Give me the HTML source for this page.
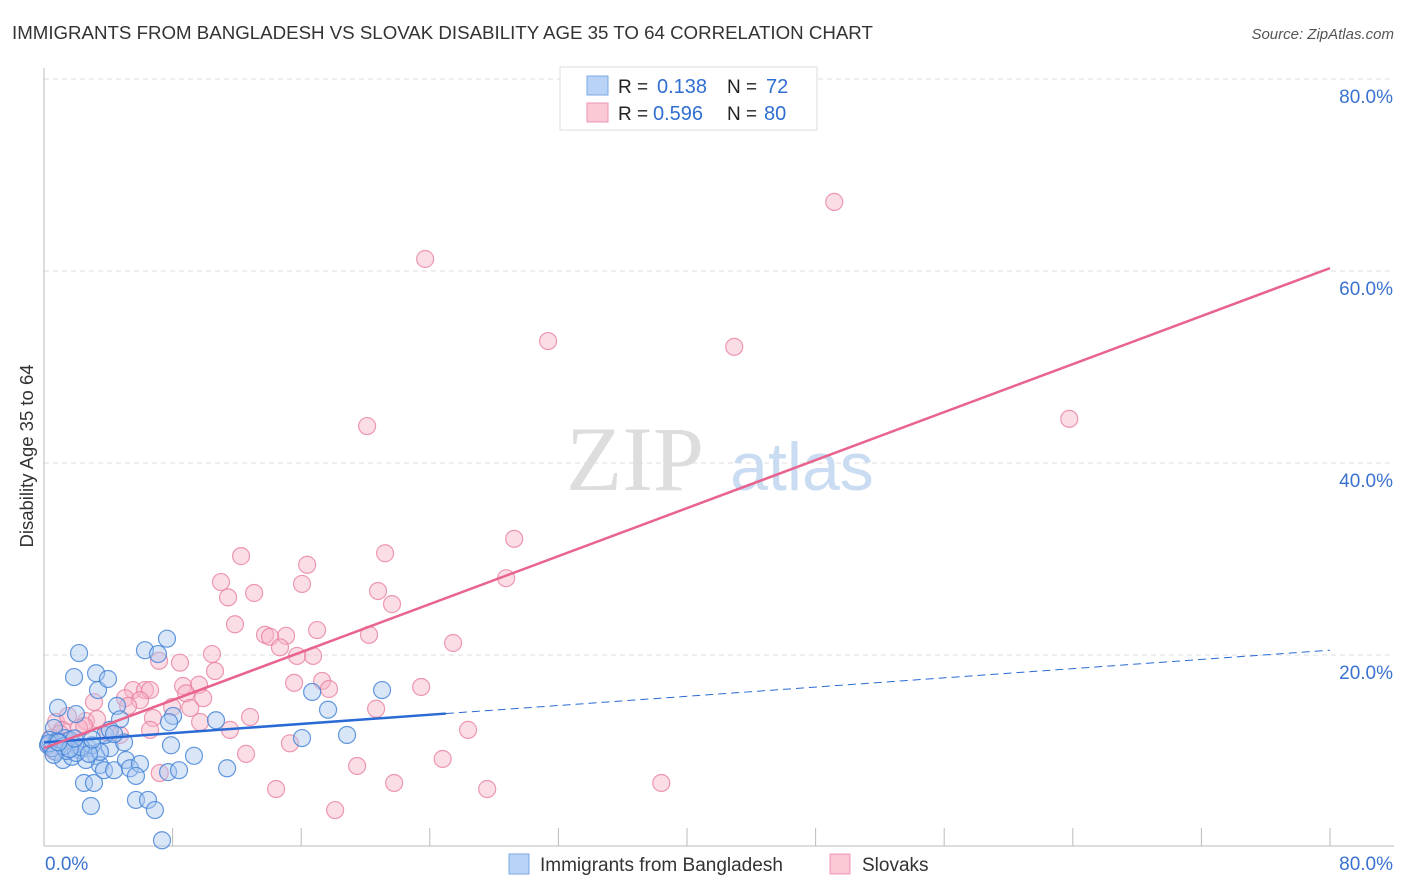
<!DOCTYPE html>
<html><head><meta charset="utf-8"><style>
body{margin:0;background:#fff;font-family:"Liberation Sans",sans-serif;}
#wrap{position:relative;width:1406px;height:892px;overflow:hidden;}
</style></head><body>
<div id="wrap">
<svg id="chart" width="1406" height="892" xmlns="http://www.w3.org/2000/svg">
<text x="12" y="39" font-size="18.7" fill="#333">IMMIGRANTS FROM BANGLADESH VS SLOVAK DISABILITY AGE 35 TO 64 CORRELATION CHART</text>
<text x="1394" y="39" font-size="15" fill="#555" font-style="italic" text-anchor="end">Source: ZipAtlas.com</text>
<text x="33" y="456" font-size="18.5" fill="#333" text-anchor="middle" transform="rotate(-90 33 456)">Disability Age 35 to 64</text>
<g id="grid"></g>
<g><text x="635" y="490" font-size="92" fill="#ddd" font-family="Liberation Serif, serif" text-anchor="middle">ZIP</text><text x="802" y="490" font-size="68" fill="#c9dcf2" text-anchor="middle">atlas</text></g>
<g id="axes"></g>
<g id="pts"></g>
<g id="trends"></g>
<g>
<rect x="560" y="67" width="257" height="63" fill="#fff" stroke="#ddd"/>
<rect x="587" y="76" width="21" height="19" fill="#b8d3f5" stroke="#7aa9e6"/>
<rect x="587" y="103" width="21" height="19" fill="#fbc8d6" stroke="#ee95b0"/>
<text x="618" y="93" font-size="19" fill="#222">R = </text><text x="657" y="93" font-size="20" fill="#2f6fd1">0.138</text>
<text x="727" y="93" font-size="19" fill="#222">N = </text><text x="766" y="93" font-size="20" fill="#2f6fd1">72</text>
<text x="618" y="120" font-size="19" fill="#222">R = </text><text x="653" y="120" font-size="20" fill="#2f6fd1">0.596</text>
<text x="727" y="120" font-size="19" fill="#222">N = </text><text x="764" y="120" font-size="20" fill="#2f6fd1">80</text>
</g>
<g>
<rect x="509" y="854" width="20" height="20" fill="#b8d3f5" stroke="#7aa9e6"/>
<text x="540" y="871" font-size="19" fill="#333">Immigrants from Bangladesh</text>
<rect x="830" y="854" width="20" height="20" fill="#fbc8d6" stroke="#ee95b0"/>
<text x="862" y="871" font-size="19" fill="#333">Slovaks</text>
</g>
</svg>
</div>
<script>
const blueX=[2.18,1.87,3.24,3.36,3.98,0.87,1.99,4.54,4.73,6.28,7.09,7.65,8.03,7.78,10.7,16.68,17.67,21.03,16.05,18.85,7.9,9.33,11.39,7.72,8.4,5.72,6.47,6.9,2.92,2.49,3.11,7.34,0.62,1.31,0.25,0.75,1.18,1.74,2.24,2.74,3.24,3.48,3.73,4.36,4.1,3.8,4.1,4.98,5.1,5.35,5.97,5.72,1.0,0.37,1.62,2.61,2.99,3.48,4.36,0.5,1.4,2.0,0.8,1.2,2.3,2.8,0.3,1.6,3.0,0.6,1.9,0.9];
const blueY=[20.2,17.7,18.1,16.35,17.5,14.5,13.85,14.7,13.3,20.5,20.1,21.7,13.65,13.0,13.2,16.15,14.3,16.35,11.35,11.67,10.6,9.5,8.2,7.8,8.0,4.9,4.9,3.85,4.27,6.67,6.67,0.7,12.4,11.35,10.6,9.9,9.06,9.4,10.1,10.3,9.5,8.54,8.0,8.0,10.3,11.67,12.2,10.9,9.06,8.2,8.65,7.4,10.9,11.15,11.15,9.06,10.6,9.9,11.77,10.3,10.0,9.8,11.0,10.5,10.4,9.7,10.8,10.2,11.2,9.6,11.3,10.9];
const pinkX=[49.16,23.71,31.36,42.94,63.78,20.1,29.25,12.26,21.22,16.37,11.01,16.05,28.75,11.45,13.07,20.78,21.65,11.88,16.99,13.75,15.06,14.06,20.22,14.68,25.45,10.45,15.74,16.74,7.16,8.46,10.64,9.64,8.65,8.84,17.3,15.56,17.73,23.46,5.54,6.28,6.6,5.04,5.97,3.11,9.9,9.1,20.66,12.82,6.78,7.97,9.71,0.75,1.49,2.61,3.3,5.23,11.57,26.38,1.12,2.18,3.98,4.73,0.44,12.57,24.8,19.48,14.44,21.78,27.57,38.4,18.11,7.2,1.74,6.6,15.3,0.4,1.0,2.5,0.6,1.3];
const pinkY=[67.2,61.25,52.7,52.1,44.6,43.85,32.1,30.3,30.6,29.4,27.6,27.4,28.0,26.0,26.46,26.67,25.3,23.2,22.6,22.1,22.0,21.9,22.1,20.8,21.25,20.1,19.9,19.9,19.4,19.2,18.33,16.9,16.77,16.0,17.3,17.1,16.46,16.67,16.35,16.35,16.35,15.5,15.3,15.1,15.5,14.48,14.4,13.54,13.44,14.58,13.02,13.02,13.65,13.12,13.33,14.7,12.2,12.2,12.2,12.4,11.87,11.67,11.35,9.7,9.17,8.44,6.04,6.67,6.04,6.67,3.85,7.7,10.9,12.2,10.8,10.5,11.8,12.6,10.0,11.0];
const blueTrend=[10.9,20.5]; const blueSolidEnd=25;
const pinkTrend=[10.3,60.3];
const yTicks=[20,40,60,80];
const xTickVals=[8,16,24,32,40,48,56,64,72,80];
const NS="http://www.w3.org/2000/svg";
const X=v=>44+v*16.075, Y=v=>847-v*9.6;
function mk(tag,attrs,parent){const e=document.createElementNS(NS,tag);for(const k in attrs)e.setAttribute(k,attrs[k]);parent.appendChild(e);return e;}
const grid=document.getElementById('grid'),axes=document.getElementById('axes'),pts=document.getElementById('pts'),tr=document.getElementById('trends');
yTicks.forEach(t=>{
 const l=mk('line',{x1:44,x2:1394,y1:Y(t),y2:Y(t),stroke:'#ddd','stroke-dasharray':'5,4'},grid);
 
 
 const tx=mk('text',{x:1393,y:Y(t)+24,'font-size':19,fill:'#3a72d0','text-anchor':'end'},axes);
 tx.textContent=t.toFixed(1)+'%';
 
 
});
mk('line',{x1:44,x2:44,y1:68,y2:846,stroke:'#bbb'},axes);
mk('line',{x1:44,x2:1394,y1:846,y2:846,stroke:'#bbb'},axes);
xTickVals.forEach(t=>{
 const l=mk('line',{x1:X(t),x2:X(t),y1:828,y2:846,stroke:'#bbb'},axes);
 
 
});
const x0=mk('text',{x:45,y:870,'font-size':19,fill:'#3a72d0'},axes);x0.textContent='0.0%';


const x1=mk('text',{x:1393,y:870,'font-size':19,fill:'#3a72d0','text-anchor':'end'},axes);x1.textContent='80.0%';


function drawSeries(xs,ys,fill,stroke,name){
 xs.forEach((v,i)=>{
  const c=mk('circle',{cx:X(v),cy:Y(ys[i]),r:8.5,fill:fill,'fill-opacity':0.45,stroke:stroke,'stroke-width':1.2,'stroke-opacity':0.8},pts);
  
  
 });
}
drawSeries(pinkX,pinkY,'#f6b3c8','#e8819f','slovaks-point');
drawSeries(blueX,blueY,'#a9c8f0','#3f7fd6','bangladesh-point');
const by=v=>blueTrend[0]+(blueTrend[1]-blueTrend[0])*v/80;
let l=mk('line',{x1:X(0),y1:Y(by(0)),x2:X(blueSolidEnd),y2:Y(by(blueSolidEnd)),stroke:'#2a6ad4','stroke-width':2.5},tr);


l=mk('line',{x1:X(blueSolidEnd),y1:Y(by(blueSolidEnd)),x2:X(80),y2:Y(by(80)),stroke:'#2a6ad4','stroke-width':1,'stroke-dasharray':'8,5'},tr);


l=mk('line',{x1:X(0),y1:Y(pinkTrend[0]),x2:X(80),y2:Y(pinkTrend[1]),stroke:'#e8638e','stroke-width':2.5},tr);


</script>
</body></html>
